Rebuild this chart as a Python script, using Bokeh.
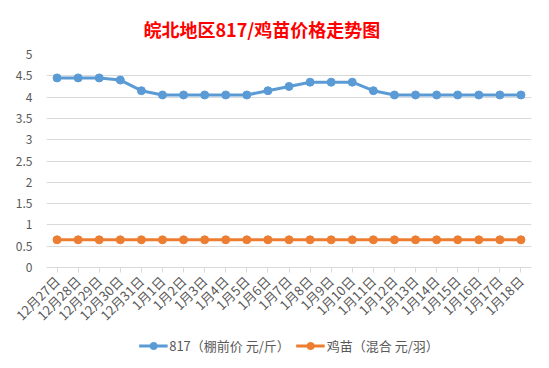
from bokeh.plotting import figure
from bokeh.layouts import column
from bokeh.models import (FixedTicker, CustomJSTickFormatter, Legend, LegendItem,
                          ColumnDataSource, Range1d)
from bokeh.embed import file_html
from bokeh.resources import INLINE
import math

dates = ["12月27日", "12月28日", "12月29日", "12月30日", "12月31日",
         "1月1日", "1月2日", "1月3日", "1月4日", "1月5日", "1月6日", "1月7日",
         "1月8日", "1月9日", "1月10日", "1月11日", "1月12日", "1月13日",
         "1月14日", "1月15日", "1月16日", "1月17日", "1月18日"]
price_817 = [4.45, 4.45, 4.45, 4.4, 4.15, 4.05, 4.05, 4.05, 4.05, 4.05, 4.15,
             4.25, 4.35, 4.35, 4.35, 4.15, 4.05, 4.05, 4.05, 4.05, 4.05, 4.05, 4.05]
chick = [0.65] * 23
y_ticks = [0, 0.5, 1, 1.5, 2, 2.5, 3, 3.5, 4, 4.5, 5]
name_817 = "817（棚前价 元/斤）"
name_chick = "鸡苗（混合 元/羽）"

src = ColumnDataSource(dict(x=dates, a=price_817, b=chick))

FONT = "Noto Sans CJK SC"
BLUE = "#5B9BD5"
ORANGE = "#ED7D31"
GRID = "#D9D9D9"
TXT = "#595959"

p = figure(frame_width=485, frame_height=213, x_range=dates, y_range=(0, 5),
           output_backend="svg", toolbar_location=None,
           min_border_left=46, min_border_right=18, min_border_top=54, min_border_bottom=67)

p.title.text = "皖北地区817/鸡苗价格走势图"
p.title.align = "left"
p.title.offset = 97
p.title.text_color = "#FF0000"
p.title.text_font = FONT
p.title.text_font_size = "18px"
p.title.text_font_style = "bold"
p.title.standoff = 26

p.outline_line_color = None
p.xgrid.grid_line_color = None
p.ygrid.grid_line_color = GRID
p.ygrid.grid_line_width = 1

p.yaxis.ticker = FixedTicker(ticks=y_ticks)
p.yaxis.formatter = CustomJSTickFormatter(code="return tick.toString();")
p.yaxis.axis_line_color = None
p.yaxis.major_tick_line_color = None
p.yaxis.minor_tick_line_color = None
p.yaxis.major_label_text_color = TXT
p.yaxis.major_label_text_font = FONT
p.yaxis.major_label_text_font_size = "12px"
p.yaxis.major_label_standoff = 8

p.xaxis.axis_line_color = GRID
p.xaxis.major_tick_line_color = GRID
p.xaxis.major_tick_out = 5
p.xaxis.major_tick_in = 0
p.xaxis.major_label_orientation = math.pi / 4
p.xaxis.major_label_text_color = TXT
p.xaxis.major_label_text_font = FONT
p.xaxis.major_label_text_font_size = "13px"
p.xaxis.major_label_standoff = 6

p.line("x", "a", source=src, line_color=BLUE, line_width=3)
p.scatter("x", "a", source=src, size=8, fill_color=BLUE, line_color=BLUE)
p.line("x", "b", source=src, line_color=ORANGE, line_width=3)
p.scatter("x", "b", source=src, size=8, fill_color=ORANGE, line_color=ORANGE)

# legend strip: same series, drawn outside its (hidden) view, used only for the key
lg = figure(width=549, height=22, output_backend="svg", toolbar_location=None,
            x_axis_type=None, y_axis_type=None, min_border=0,
            x_range=p.x_range, y_range=Range1d(-20, -19))
lg.outline_line_color = None
lg.grid.visible = False
l1 = lg.line("x", "a", source=src, line_color=BLUE, line_width=3)
c1 = lg.scatter("x", "a", source=src, size=8, fill_color=BLUE, line_color=BLUE)
l2 = lg.line("x", "b", source=src, line_color=ORANGE, line_width=3)
c2 = lg.scatter("x", "b", source=src, size=8, fill_color=ORANGE, line_color=ORANGE)
legend = Legend(items=[LegendItem(label=name_817, renderers=[l1, c1]),
                       LegendItem(label=name_chick, renderers=[l2, c2])],
                orientation="horizontal", location="center",
                label_text_font=FONT, label_text_font_size="13px",
                label_text_color=TXT, border_line_color=None,
                background_fill_alpha=0, glyph_width=29, spacing=6,
                label_standoff=2, margin=0, padding=0,
                label_height=18, glyph_height=18)
lg.add_layout(legend, "center")

layout = column(p, lg, spacing=0)
open("out.html", "w").write(file_html(layout, INLINE))
